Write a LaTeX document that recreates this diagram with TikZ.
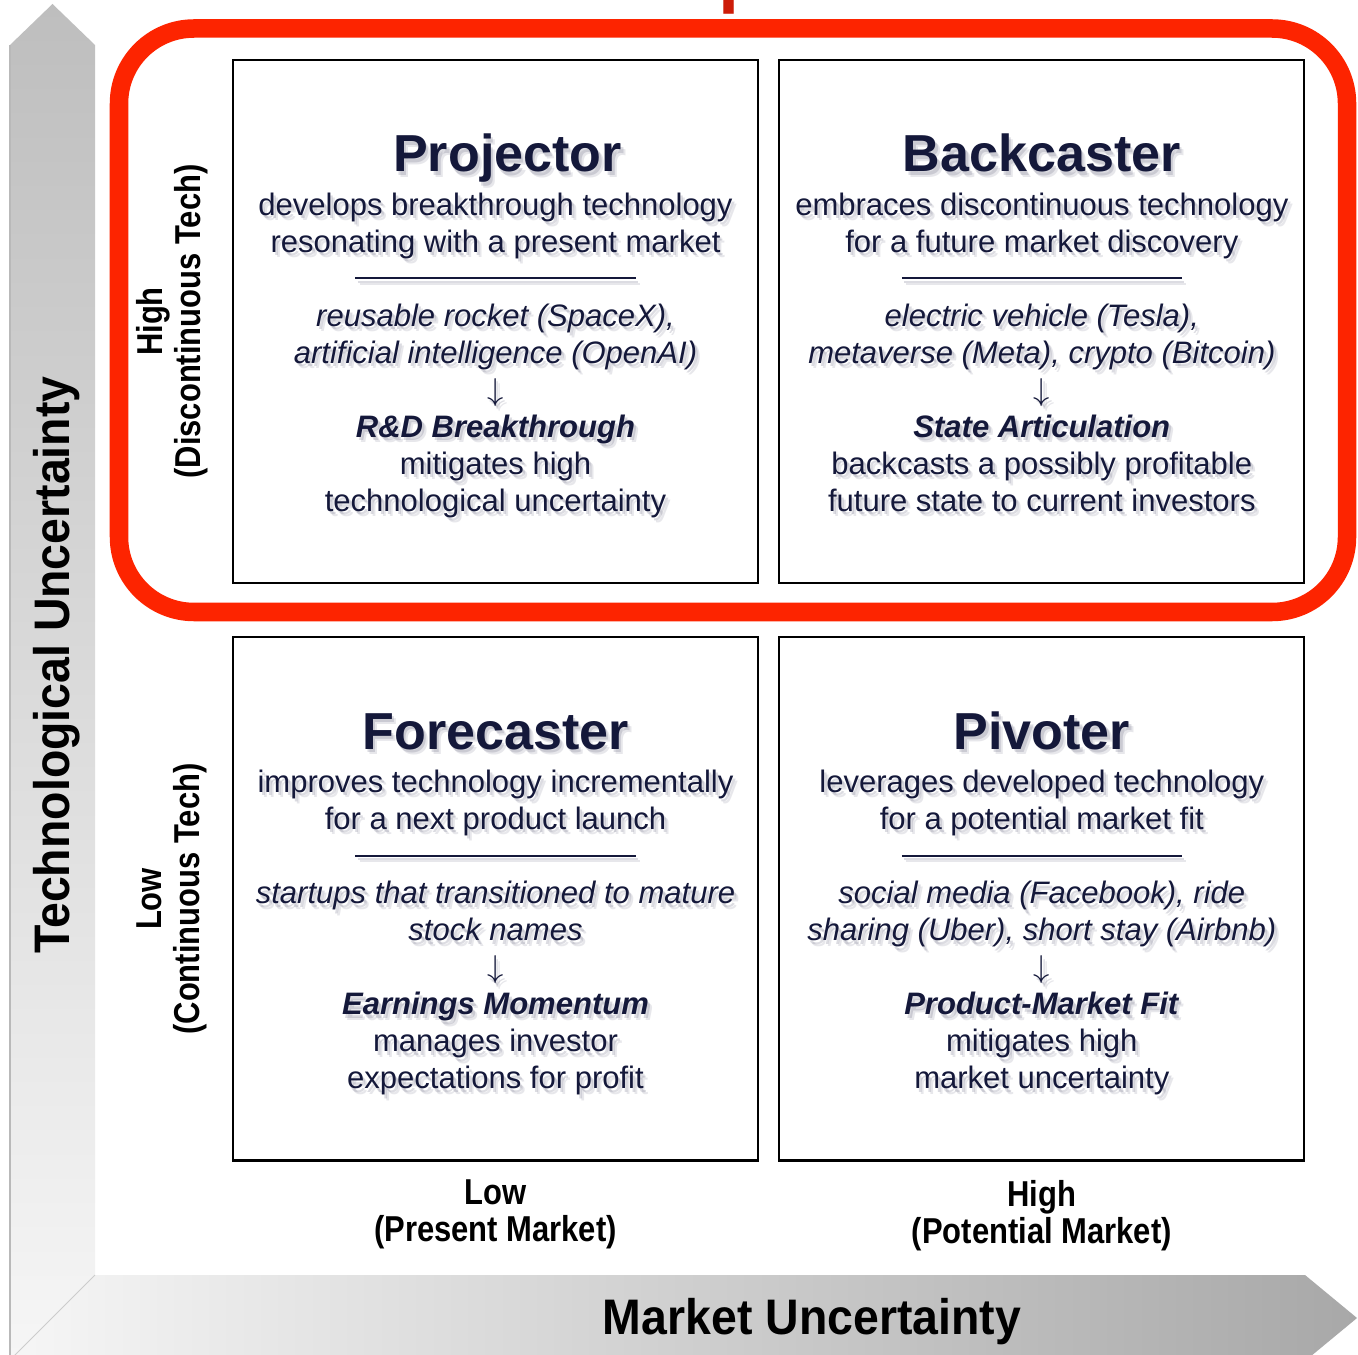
\documentclass[tikz,border=0pt]{standalone}
\usepackage{fontspec}
\setmainfont{Liberation Sans}
\newfontfamily\narrowfont[FakeStretch=0.86]{Liberation Sans}
\newfontfamily\axisfont[FakeStretch=0.93]{Liberation Sans}
\usetikzlibrary{positioning}

\definecolor{inkblue}{RGB}{20,24,58}
\definecolor{glow}{RGB}{100,100,125}
\definecolor{framered}{RGB}{253,36,0}
\definecolor{headred}{RGB}{205,28,8}
\definecolor{bandlight}{RGB}{246,246,246}
\definecolor{bandmid}{RGB}{190,190,190}
\definecolor{banddark}{RGB}{168,168,168}

% rule between description and examples
\newcommand{\divider}{\rule[0.1cm]{2.8cm}{0.02cm}}
\newcommand{\downto}{$\downarrow$}

% title and body of one quadrant, each over two soft copies
\newcommand{\quadrant}[4][0cm]{%
	\node[titletext,shadowtext,text opacity=0.15] (#1-ts2) at ([xshift=#1+0.045cm,yshift=-1.185cm]#2.north) {#3};
	\node[titletext,shadowtext]                   (#1-ts)  at ([xshift=#1+0.025cm,yshift=-1.165cm]#2.north) {#3};
	\node[titletext]                              (#1-t)   at ([xshift=#1,yshift=-1.13cm]#2.north) {#3};
	\node[bodytext,shadowtext,text opacity=0.15]  (#2-bs2) at ([xshift=0.045cm,yshift=-1.385cm]#2.north) {#4};
	\node[bodytext,shadowtext]                    (#2-bs)  at ([xshift=0.025cm,yshift=-1.365cm]#2.north) {#4};
	\node[bodytext]                               (#2-b)   at ([yshift=-1.33cm]#2.north) {#4};
}

\begin{document}
\begin{tikzpicture}[x=0.01cm,y=-0.01cm]
	\tikzstyle{quadbox}=[draw=black,line width=0.02cm,minimum width=5.25cm,minimum height=5.23cm,inner sep=0pt]
	\tikzstyle{titletext}=[anchor=base,inner sep=0pt,text=inkblue,font={\bfseries\fontsize{14.8pt}{16pt}\selectfont}]
	\tikzstyle{bodytext}=[anchor=north,inner sep=0pt,align=center,text=inkblue,font={\fontsize{8.82pt}{10.53pt}\selectfont}]
	\tikzstyle{shadowtext}=[text=glow,text opacity=0.22]
	\tikzstyle{sidelabel}=[align=center,inner sep=0pt,rotate=90,font={\narrowfont\bfseries\fontsize{10.24pt}{10.8pt}\selectfont}]
	\tikzstyle{marketlabel}=[align=center,inner sep=0pt,font={\narrowfont\bfseries\fontsize{10.24pt}{10.5pt}\selectfont}]
	\tikzstyle{axislabel}=[inner sep=0pt,font={\axisfont\bfseries\fontsize{14.2pt}{15pt}\selectfont}]

	\useasboundingbox (0,0) rectangle (1358,1355);
	\fill[white] (0,0) rectangle (1358,1355);

	% the two axis arrows
	\shade[top color=bandmid,bottom color=bandlight] (10,1360) -- (10,45) -- (52.5,4) -- (95,45) -- (95,1275) -- cycle;
	\shade[left color=bandlight,right color=banddark] (10,1360) -- (95,1275) -- (1305,1275) -- (1357,1318) -- (1305,1361) -- cycle;
	\draw[gray!55,line width=0.012cm] (10,1360) -- (10,45);
	\draw[gray!40,line width=0.01cm] (95,1275) -- (10,1360);

	% heading, mostly above the page
	\node[anchor=base,text=headred,font={\bfseries\fontsize{21.6pt}{22pt}\selectfont}] (deeptech) at (768,-1) {Deep Tech};

	% red frame round the upper row
	\draw[framered,line width=0.185cm,rounded corners=0.75cm] (119,28.5) rectangle (1347,612);

	% quadrants
	\node[quadbox] (proj) at (495.5,321.5) {};
	\node[quadbox] (back) [right=0.19cm of proj] {};
	\node[quadbox] (fore) [below=0.52cm of proj] {};
	\node[quadbox] (pivot) [right=0.19cm of fore] {};

	\quadrant[0.12cm]{proj}{Projector}{develops breakthrough technology\\
		resonating with a present market\\
		\divider\\
		\textit{reusable rocket (SpaceX),}\\
		\textit{artificial intelligence (OpenAI)}\\
		\downto\\
		\textbf{\textit{R\&D Breakthrough}}\\
		mitigates high\\
		technological uncertainty}
	\quadrant{back}{Backcaster}{embraces discontinuous technology\\
		for a future market discovery\\
		\divider\\
		\textit{electric vehicle (Tesla),}\\
		\textit{metaverse (Meta), crypto (Bitcoin)}\\
		\downto\\
		\textbf{\textit{State Articulation}}\\
		backcasts a possibly profitable\\
		future state to current investors}
	\quadrant{fore}{Forecaster}{improves technology incrementally\\
		for a next product launch\\
		\divider\\
		\textit{startups that transitioned to mature}\\
		\textit{stock names}\\
		\downto\\
		\textbf{\textit{Earnings Momentum}}\\
		manages investor\\
		expectations for profit}
	\quadrant{pivot}{Pivoter}{leverages developed technology\\
		for a potential market fit\\
		\divider\\
		\textit{social media (Facebook), ride}\\
		\textit{sharing (Uber), short stay (Airbnb)}\\
		\downto\\
		\textbf{\textit{Product-Market Fit}}\\
		mitigates high\\
		market uncertainty}

	% level labels on both axes
	\node[sidelabel] (techhigh) at (172,321.5) {High\\(Discontinuous Tech)};
	\node[sidelabel] (techlow) at (172,899) {Low\\(Continuous Tech)};
	\node[marketlabel] (marketlow) [below=0.18cm of fore] {Low\\(Present Market)};
	\node[marketlabel] (markethigh) [below=0.18cm of pivot] {High\\(Potential Market)};

	% axis titles
	\node[axislabel,rotate=90] (techaxis) at (57,665) {Technological Uncertainty};
	\node[axislabel] (marketaxis) at (812,1322) {Market Uncertainty};
\end{tikzpicture}
\end{document}
